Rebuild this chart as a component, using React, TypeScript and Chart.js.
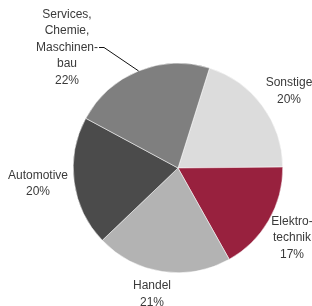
import React, { useEffect, useRef } from "react";
import { Chart, registerables } from "chart.js";

Chart.register(...registerables);

const categories = ["Sonstige", "Elektrotechnik", "Handel", "Automotive", "Services, Chemie, Maschinenbau"];
const values = [20, 17, 21, 20, 22];
const labelLines = [
  ["Sonstige", "20%"],
  ["Elektro-", "technik", "17%"],
  ["Handel", "21%"],
  ["Automotive", "20%"],
  ["Services,", "Chemie,", "Maschinen-", "bau", "22%"],
];
const colors = ["#dcdcdc", "#98213e", "#b3b3b3", "#4b4b4b", "#7f7f7f"];
// label block centre offsets from pie centre (layout)
const labelOffsets = [
  [111, -77],
  [114, 70],
  [-26, 126],
  [-140, 15.5],
  [-111, -120.5],
];

const labelPlugin = {
  id: "customLabels",
  afterDraw(chart: any) {
    const ctx = chart.ctx;
    const meta = chart.getDatasetMeta(0);
    ctx.save();
    ctx.font = "12px 'Liberation Sans', Arial, sans-serif";
    ctx.fillStyle = "#3a3a3a";
    ctx.textAlign = "center";
    ctx.textBaseline = "middle";
    const lh = 16.5;
    meta.data.forEach((arc: any, i: number) => {
      const cx = arc.x;
      const cy = arc.y;
      const lines = labelLines[i];
      const [ox, oy] = labelOffsets[i];
      const bx = cx + ox;
      const by = cy + oy;
      const top = by - ((lines.length - 1) * lh) / 2;
      lines.forEach((t, j) => ctx.fillText(t, bx, top + j * lh));
      if (i === 4) {
        // leader line from "Maschinen-" to arc middle
        const mid = (arc.startAngle + arc.endAngle) / 2;
        const ex = cx + Math.cos(mid) * arc.outerRadius;
        const ey = cy + Math.sin(mid) * arc.outerRadius;
        const ly = top + 2 * lh;
        const w = ctx.measureText(lines[2]).width;
        const sx = bx + w / 2 + 1;
        ctx.strokeStyle = "#111";
        ctx.lineWidth = 1;
        ctx.beginPath();
        ctx.moveTo(sx, ly);
        ctx.lineTo(sx + 5, ly);
        ctx.lineTo(ex, ey);
        ctx.stroke();
      }
    });
    ctx.restore();
  },
};

export default function App() {
  const ref = useRef<HTMLCanvasElement>(null);
  useEffect(() => {
    document.body.style.margin = "0";
    const chart = new Chart(ref.current!, {
      type: "pie",
      data: {
        labels: categories,
        datasets: [
          {
            data: values,
            backgroundColor: colors,
            borderColor: "#ffffff",
            borderWidth: 0.5,
          },
        ],
      },
      options: {
        responsive: false,
        animation: false,
        rotation: 17.5,
        layout: { padding: { left: 73, right: 29, top: 63, bottom: 33 } },
        plugins: { legend: { display: false }, tooltip: { enabled: false } },
      },
      plugins: [labelPlugin],
    });
    return () => chart.destroy();
  }, []);
  return (
    <div style={{ width: 312, height: 306, background: "#fff" }}>
      <canvas ref={ref} width={312} height={306} />
    </div>
  );
}
